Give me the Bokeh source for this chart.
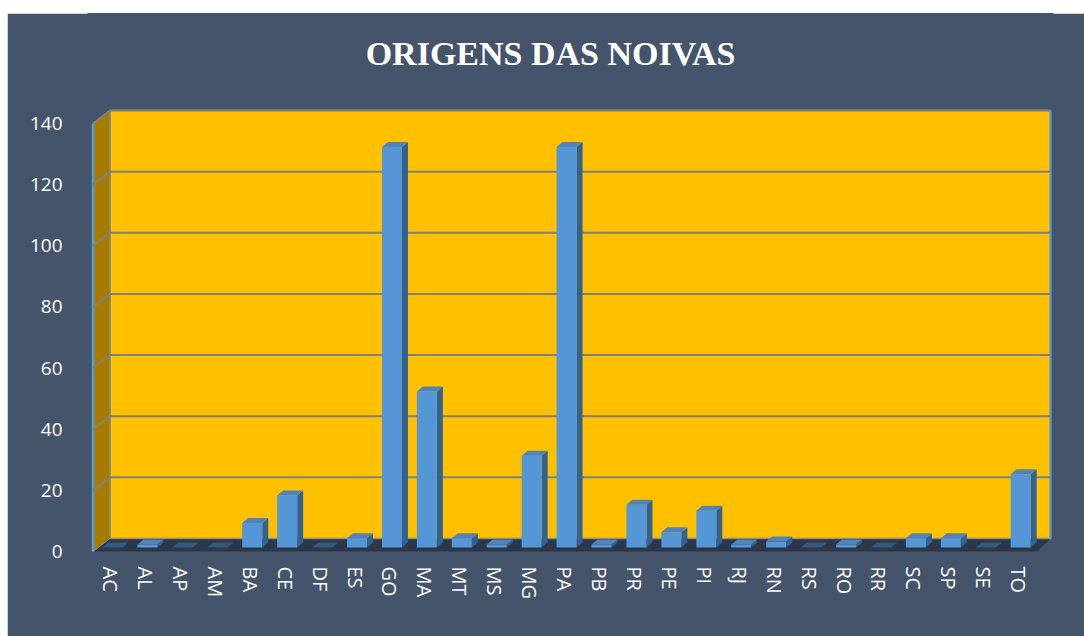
from bokeh.plotting import figure
from bokeh.models import Range1d, FixedTicker, Label
from bokeh.embed import file_html
from bokeh.resources import INLINE

# ---------------- data ----------------
states = ["AC", "AL", "AP", "AM", "BA", "CE", "DF", "ES", "GO", "MA", "MT", "MS", "MG", "PA",
          "PB", "PR", "PE", "PI", "RJ", "RN", "RS", "RO", "RR", "SC", "SP", "SE", "TO"]
noivas = [0, 1, 0, 0, 8, 17, 0, 3, 131, 51, 3, 1, 30, 131,
          1, 14, 5, 12, 1, 2, 0, 1, 0, 3, 3, 0, 24]
y_ticks = [0, 20, 40, 60, 80, 100, 120, 140]
title_text = "ORIGENS DAS NOIVAS"

# ---------------- geometry (pixels) ----------------
BG = "#44546A"
PXC = 34.93      # px per category
PXU = 3.057      # px per unit value
XC0 = 110.0      # ref px of first category centre
Y0 = 551.0       # ref px of value 0 on front plane
FIG_X, FIG_Y = 7, 13
W, H = 1077, 623
FRAME_L, FRAME_R, FRAME_T, FRAME_B = 88, 1052, FIG_Y, 553
TITLE_X, TITLE_Y = 550, 53


def dx(px):
    return px / PXC


def dy(px):
    return px / PXU


p = figure(width=W, height=H, output_backend="svg", toolbar_location=None,
           x_range=Range1d((FRAME_L - XC0) / PXC, (FRAME_R - XC0) / PXC),
           y_range=Range1d((Y0 - FRAME_B) / PXU, (Y0 - FRAME_T) / PXU),
           min_border_left=FRAME_L - FIG_X, min_border_top=0,
           min_border_right=FIG_X + W - FRAME_R, min_border_bottom=FIG_Y + H - FRAME_B)
p.margin = (FIG_Y, 0, 0, FIG_X)
p.background_fill_color = BG
p.border_fill_color = BG
p.outline_line_color = BG
p.outline_line_width = 2
p.xgrid.visible = False
p.ygrid.visible = False

# ---- title (inside the canvas, above the walls) ----
p.add_layout(Label(x=dx(TITLE_X - XC0), y=dy(Y0 - TITLE_Y), text=title_text,
                   text_align="center", text_baseline="middle",
                   text_font="Liberation Serif", text_font_style="bold",
                   text_font_size="34px", text_color="white"))

# ---- 3D box geometry ----
fl = -17.5          # front-left x offset (px from first centre)
bl = fl + 17        # back-left
fr = 1037 - XC0     # front-right
br = 1050 - XC0     # back-right
depth_y = 13        # back wall raised by this many px
top_val = y_ticks[-1]

# floor
p.patch([dx(fl), dx(fr), dx(br), dx(bl)], [0, 0, dy(depth_y), dy(depth_y)],
        fill_color="#2C3849", line_color=None)
# back wall
p.patch([dx(bl), dx(br), dx(br), dx(bl)],
        [dy(depth_y), dy(depth_y), top_val + dy(depth_y), top_val + dy(depth_y)],
        fill_color="#FFC000", line_color="#8C8C8C", line_width=1.5)
p.line([dx(br), dx(br)], [dy(depth_y), top_val + dy(depth_y)], line_color="#5B9BD5", line_width=2)
# left side wall
p.patch([dx(fl), dx(bl), dx(bl), dx(fl)],
        [0, dy(depth_y), top_val + dy(depth_y), top_val],
        fill_color="#A67C00", line_color="#6E8FB5", line_width=1)
p.line([dx(fl), dx(fl)], [0, top_val], line_color="#5B9BD5", line_width=2.5)

# gridlines on walls
gx, gy = [], []
for t in y_ticks[1:]:
    gx.append([dx(fl), dx(bl), dx(br)])
    gy.append([t, t + dy(depth_y), t + dy(depth_y)])
p.multi_line(gx, gy, line_color="#808080", line_width=2)

# ---- bars ----
bw = 10   # half width px
bxo = 2   # x shift px
byo = 4   # y shift px
sdx, sdy = 6, 5
fx_l, fx_r, fb, ft = [], [], [], []
side_x, side_y, top_x, top_y, top_c = [], [], [], [], []
for i, v in enumerate(noivas):
    L = i + dx(bxo - bw)
    R = i + dx(bxo + bw)
    b = dy(byo)
    t = v + dy(byo)
    fx_l.append(L); fx_r.append(R); fb.append(b); ft.append(t)
    side_x.append([R, R + dx(sdx), R + dx(sdx), R])
    side_y.append([b, b + dy(sdy), t + dy(sdy), t])
    top_x.append([L, L + dx(sdx), R + dx(sdx), R])
    top_y.append([t, t + dy(sdy), t + dy(sdy), t])
    top_c.append("#3B5878" if v == 0 else "#5283B8")

p.patches(side_x, side_y, fill_color="#34628F", line_color=None)
p.quad(left=fx_l, right=fx_r, bottom=fb, top=ft, fill_color="#5597D6", line_color=None)
p.patches(top_x, top_y, fill_color=top_c, line_color=None)

# ---- axes ----
p.yaxis.ticker = FixedTicker(ticks=y_ticks)
p.yaxis.axis_line_color = None
p.yaxis.major_tick_line_color = None
p.yaxis.minor_tick_line_color = None
p.yaxis.major_label_standoff = 20
p.yaxis.major_label_text_color = "white"
p.yaxis.major_label_text_font = "Open Sans"
p.yaxis.major_label_text_font_size = "19px"

p.xaxis.ticker = FixedTicker(ticks=list(range(len(states))))
p.xaxis.major_label_overrides = {i: s for i, s in enumerate(states)}
p.xaxis.major_label_orientation = "vertical"
p.xaxis.axis_line_color = None
p.xaxis.major_tick_line_color = None
p.xaxis.minor_tick_line_color = None
p.xaxis.major_label_standoff = 7
p.xaxis.major_label_text_color = "white"
p.xaxis.major_label_text_font = "Open Sans"
p.xaxis.major_label_text_font_size = "20px"

open("out.html", "w").write(file_html(p, INLINE))
